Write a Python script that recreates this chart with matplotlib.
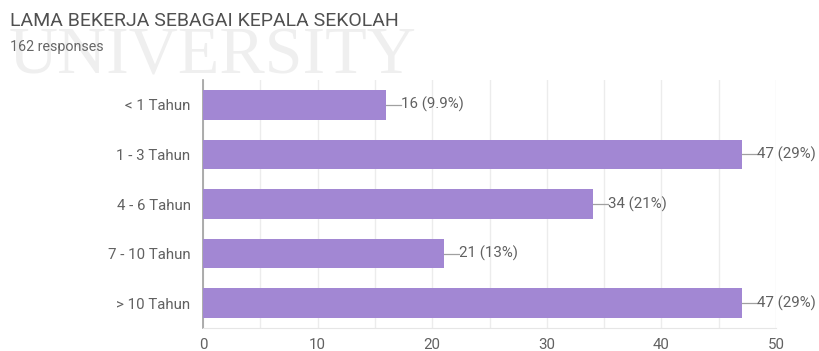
import matplotlib
matplotlib.use("Agg")
import matplotlib.pyplot as plt
from matplotlib.ticker import MultipleLocator
import numpy as np

categories = ["< 1 Tahun", "1 - 3 Tahun", "4 - 6 Tahun", "7 - 10 Tahun", "> 10 Tahun"]
counts = [16, 47, 34, 21, 47]
percent_labels = ["9.9%", "29%", "21%", "13%", "29%"]
title = "LAMA BEKERJA SEBAGAI KEPALA SEKOLAH"
subtitle = "162 responses"
x_ticks = [0, 10, 20, 30, 40, 50]

plt.rcParams['font.family'] = ['Roboto', 'DejaVu Sans']

fig = plt.figure(figsize=(8.19, 3.51), dpi=100)
fig.patch.set_facecolor("white")

# faint watermark
fig.text(0.010, 0.792, "UNIVERSITY", fontsize=49, family=['Liberation Serif'],
         color="#efefef", ha="left", va="baseline", zorder=0)

fig.text(0.012, 0.915, title, fontsize=14, color="#505050", ha="left", va="bottom")
fig.text(0.012, 0.845, subtitle, fontsize=10.3, color="#666666", ha="left", va="bottom")

ax = fig.add_axes([0.2479, 0.0655, 0.6996, 0.7065])
ax.set_facecolor("none")
y = np.arange(len(categories))
ax.barh(y, counts, height=0.6, color="#a287d3", zorder=3)
ax.set_ylim(len(categories) - 0.5, -0.5)
ax.set_xlim(0, 50)
ax.set_yticks(y)
ax.set_yticklabels(categories)
ax.set_xticks(x_ticks)
ax.xaxis.set_minor_locator(MultipleLocator(5))
ax.grid(axis="x", which="both", color="#ececec", linewidth=1, zorder=0)
ax.tick_params(axis="both", which="both", length=0, labelsize=10.8, labelcolor="#616161")
ax.tick_params(axis="x", pad=7)
ax.tick_params(axis="y", pad=9)
for s in ["top", "right"]:
    ax.spines[s].set_visible(False)
ax.spines["bottom"].set_color("#e6e6e6")
ax.spines["left"].set_color("#9e9e9e")
ax.spines["left"].set_linewidth(1.2)

for yi, c, p in zip(y, counts, percent_labels):
    ax.plot([c, c + 1.3], [yi, yi], color="#a0a0a0", linewidth=0.9, zorder=4)
    ax.text(c + 1.3, yi, f"{c} ({p})", va="center", ha="left", fontsize=10.8,
            color="#616161", zorder=4)

fig.savefig("out.png", dpi=100, facecolor="white")
